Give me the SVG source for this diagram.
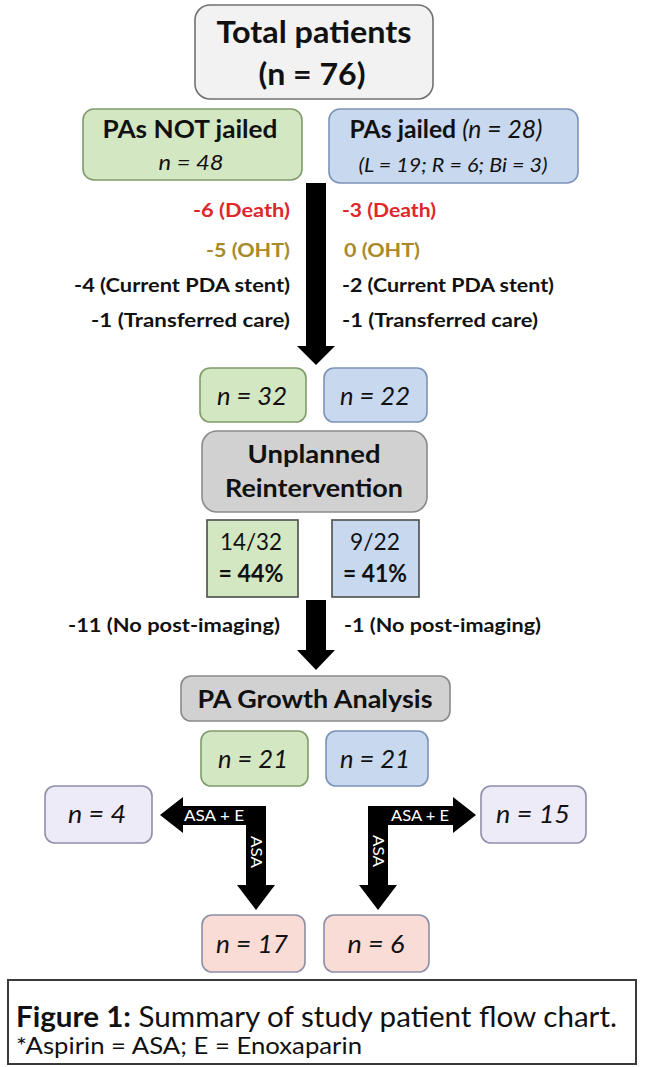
<svg xmlns="http://www.w3.org/2000/svg" width="645" height="1067" viewBox="0 0 645 1067">
<style>
text{font-family:Lato,"Open Sans","Liberation Sans",sans-serif;fill:#111}
.b{font-weight:bold}
.i{font-style:italic}
.box{stroke-width:1.6}
.gray0{fill:#f2f2f2;stroke:#707070}
.green{fill:#d3e7c2;stroke:#7f9c6c}
.blue{fill:#c8d8ef;stroke:#7c93b8}
.gray{fill:#d2d1d1;stroke:#8a8a8a}
.lav{fill:#eeebf8;stroke:#8e8fa8}
.pink{fill:#fadcd7;stroke:#8d8fa6}
.sq{stroke:#4a4f48;stroke-width:1.6}
.red{fill:#e0262b}
.olive{fill:#a88a2c}
.w{fill:#ffffff}
.arrow{fill:#000}
</style>
<rect width="645" height="1067" fill="#ffffff"/>
<g id="connectors">
  <polygon class="arrow" points="306,183 326,183 326,346 335,346 316,365 297,346 306,346"/>
  <polygon class="arrow" points="306,600 326,600 326,650 335,650 316,670 297,650 306,650"/>
  <polygon class="arrow" points="160,815 183,797 183,806 266,806 266,885 275,885 256,910 237,885 246,885 246,825 183,825 183,833"/>
  <polygon class="arrow" points="476,815 453,797 453,806 368,806 368,885 359,885 378,910 397,885 388,885 388,825 453,825 453,833"/>
  <text class="w" x="214" y="821" font-size="16" text-anchor="middle" textLength="60" lengthAdjust="spacingAndGlyphs">ASA + E</text>
  <text class="w" x="420" y="821" font-size="16" text-anchor="middle" textLength="58" lengthAdjust="spacingAndGlyphs">ASA + E</text>
  <text class="w" transform="translate(256,852) rotate(90)" y="5" font-size="16" text-anchor="middle" textLength="32" lengthAdjust="spacingAndGlyphs">ASA</text>
  <text class="w" transform="translate(378,851) rotate(90)" y="5" font-size="16" text-anchor="middle" textLength="32" lengthAdjust="spacingAndGlyphs">ASA</text>
  <g id="exclusions" class="b" font-size="19">
    <text class="red" x="290" y="217" text-anchor="end" textLength="97" lengthAdjust="spacingAndGlyphs">-6 (Death)</text>
    <text class="olive" x="290" y="257" text-anchor="end" textLength="84" lengthAdjust="spacingAndGlyphs">-5 (OHT)</text>
    <text x="290" y="292" text-anchor="end" textLength="216" lengthAdjust="spacingAndGlyphs">-4 (Current PDA stent)</text>
    <text x="290" y="327" text-anchor="end" textLength="199" lengthAdjust="spacingAndGlyphs">-1 (Transferred care)</text>
    <text class="red" x="342" y="217" textLength="94" lengthAdjust="spacingAndGlyphs">-3 (Death)</text>
    <text class="olive" x="344" y="257" textLength="76" lengthAdjust="spacingAndGlyphs">0 (OHT)</text>
    <text x="342" y="292" textLength="212" lengthAdjust="spacingAndGlyphs">-2 (Current PDA stent)</text>
    <text x="342" y="327" textLength="196" lengthAdjust="spacingAndGlyphs">-1 (Transferred care)</text>
    <text x="280" y="632" text-anchor="end" textLength="212" lengthAdjust="spacingAndGlyphs">-11 (No post-imaging)</text>
    <text x="344" y="632" textLength="197" lengthAdjust="spacingAndGlyphs">-1 (No post-imaging)</text>
  </g>
</g>
<g id="total">
  <rect class="box gray0" x="195" y="5" width="238" height="94" rx="15"/>
  <text class="b" x="314" y="43" font-size="30" text-anchor="middle" textLength="195" lengthAdjust="spacingAndGlyphs">Total patients</text>
  <text class="b" x="312" y="85" font-size="30" text-anchor="middle" textLength="107" lengthAdjust="spacingAndGlyphs">(n = 76)</text>
</g>
<g id="not-jailed">
  <rect class="box green" x="83" y="109" width="219" height="71" rx="11"/>
  <text class="b" x="190" y="138" font-size="25" text-anchor="middle" textLength="175" lengthAdjust="spacingAndGlyphs">PAs NOT jailed</text>
  <text class="i" x="191" y="170" font-size="22" text-anchor="middle" textLength="65" lengthAdjust="spacingAndGlyphs">n = 48</text>
</g>
<g id="jailed">
  <rect class="box blue" x="329" y="109" width="249" height="74" rx="11"/>
  <text x="446" y="138" font-size="25" text-anchor="middle" textLength="193" lengthAdjust="spacingAndGlyphs"><tspan class="b">PAs jailed </tspan><tspan class="i">(n = 28)</tspan></text>
  <text class="i" x="453" y="172" font-size="19" text-anchor="middle" textLength="189" lengthAdjust="spacingAndGlyphs">(L = 19; R = 6; Bi = 3)</text>
</g>
<g id="n32">
  <rect class="box green" x="200" y="368" width="106" height="54" rx="10"/>
  <text class="i" x="252" y="405" font-size="25" text-anchor="middle" textLength="70" lengthAdjust="spacingAndGlyphs">n = 32</text>
</g>
<g id="n22">
  <rect class="box blue" x="324" y="368" width="103" height="54" rx="10"/>
  <text class="i" x="375" y="405" font-size="25" text-anchor="middle" textLength="70" lengthAdjust="spacingAndGlyphs">n = 22</text>
</g>
<g id="unplanned">
  <rect class="box gray" x="202" y="431" width="225" height="81" rx="15"/>
  <text class="b" x="314" y="463" font-size="25" text-anchor="middle" textLength="133" lengthAdjust="spacingAndGlyphs">Unplanned</text>
  <text class="b" x="314" y="497" font-size="25" text-anchor="middle" textLength="178" lengthAdjust="spacingAndGlyphs">Reintervention</text>
</g>
<g id="rate-not-jailed">
  <rect class="sq" fill="#d3e7c2" x="207" y="520" width="91" height="77"/>
  <text x="251" y="550" font-size="24" text-anchor="middle" textLength="62" lengthAdjust="spacingAndGlyphs">14/32</text>
  <text class="b" x="251" y="582" font-size="24" text-anchor="middle" textLength="65" lengthAdjust="spacingAndGlyphs">= 44%</text>
</g>
<g id="rate-jailed">
  <rect class="sq" fill="#c8d8ef" x="332" y="520" width="87" height="77"/>
  <text x="375" y="550" font-size="24" text-anchor="middle" textLength="50" lengthAdjust="spacingAndGlyphs">9/22</text>
  <text class="b" x="375" y="582" font-size="24" text-anchor="middle" textLength="64" lengthAdjust="spacingAndGlyphs">= 41%</text>
</g>
<g id="growth">
  <rect class="box gray" x="181" y="676" width="269" height="45" rx="10"/>
  <text class="b" x="315" y="708" font-size="25" text-anchor="middle" textLength="235" lengthAdjust="spacingAndGlyphs">PA Growth Analysis</text>
</g>
<g id="n21a">
  <rect class="box green" x="201" y="731" width="107" height="55" rx="10"/>
  <text class="i" x="253" y="768" font-size="25" text-anchor="middle" textLength="70" lengthAdjust="spacingAndGlyphs">n = 21</text>
</g>
<g id="n21b">
  <rect class="box blue" x="326" y="731" width="102" height="55" rx="10"/>
  <text class="i" x="375" y="768" font-size="25" text-anchor="middle" textLength="70" lengthAdjust="spacingAndGlyphs">n = 21</text>
</g>
<g id="n4">
  <rect class="box lav" x="45" y="786" width="107" height="57" rx="10"/>
  <text class="i" x="97" y="823" font-size="25" text-anchor="middle" textLength="58" lengthAdjust="spacingAndGlyphs">n = 4</text>
</g>
<g id="n15">
  <rect class="box lav" x="481" y="786" width="105" height="57" rx="10"/>
  <text class="i" x="533" y="823" font-size="25" text-anchor="middle" textLength="74" lengthAdjust="spacingAndGlyphs">n = 15</text>
</g>
<g id="n17">
  <rect class="box pink" x="202" y="915" width="103" height="57" rx="10"/>
  <text class="i" x="252" y="953" font-size="25" text-anchor="middle" textLength="72" lengthAdjust="spacingAndGlyphs">n = 17</text>
</g>
<g id="n6">
  <rect class="box pink" x="324" y="915" width="105" height="57" rx="10"/>
  <text class="i" x="376" y="953" font-size="25" text-anchor="middle" textLength="57" lengthAdjust="spacingAndGlyphs">n = 6</text>
</g>
<g id="caption">
  <rect x="8" y="980" width="628" height="84" fill="#ffffff" stroke="#3a3a3a" stroke-width="2"/>
  <text x="16" y="1027" font-size="28" textLength="601" lengthAdjust="spacingAndGlyphs"><tspan class="b">Figure 1:</tspan> Summary of study patient flow chart.</text>
  <text x="16" y="1054" font-size="23" textLength="346" lengthAdjust="spacingAndGlyphs">*Aspirin = ASA; E = Enoxaparin</text>
</g>
</svg>
